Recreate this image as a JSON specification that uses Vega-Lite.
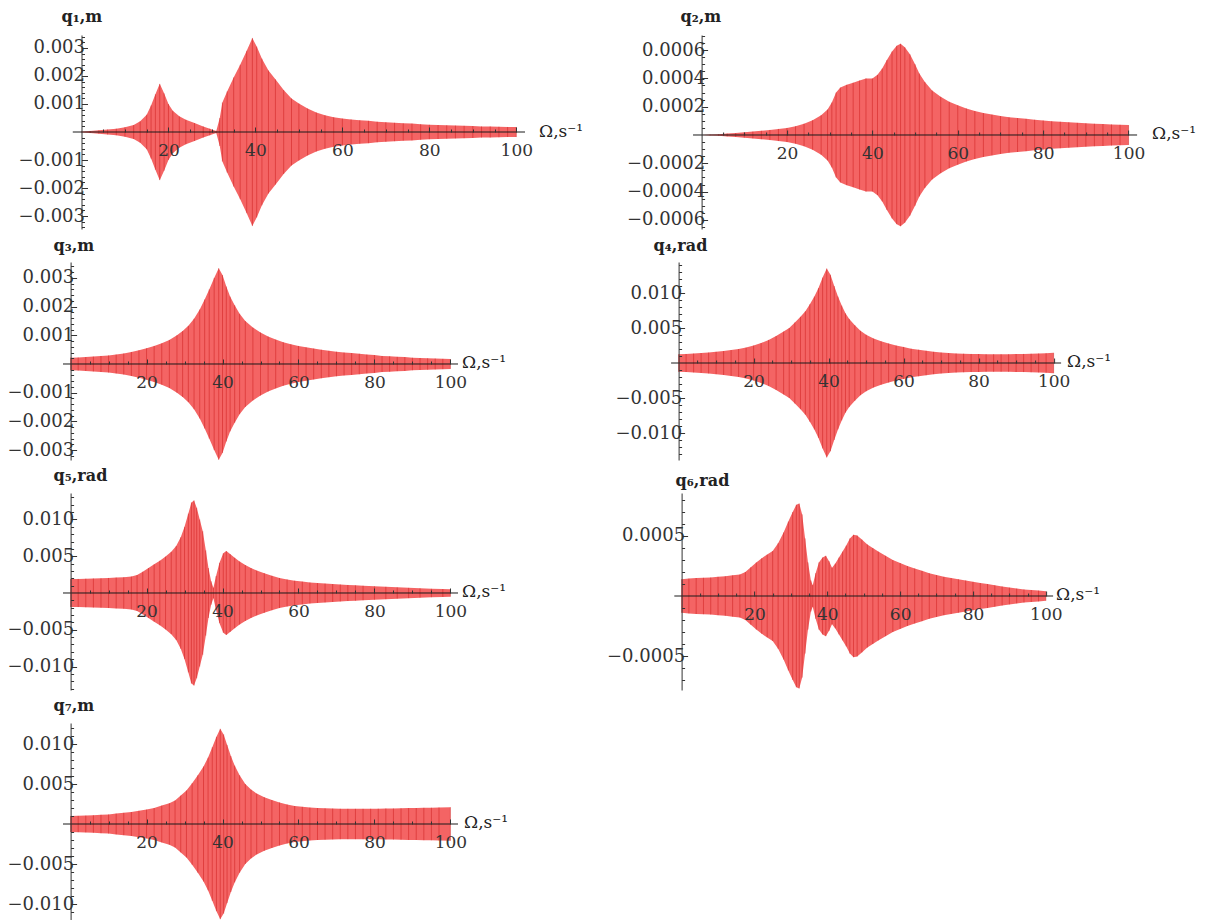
{
"$schema": "https://vega.github.io/schema/vega-lite/v6.json",
"background": "white",
"padding": {"left": 6, "top": 9, "right": 0, "bottom": 0},
"config": {
  "view": {"stroke": null},
  "axis": {"labelFont": "DejaVu Serif", "labelColor": "#333", "domainColor": "#333", "tickColor": "#333", "grid": false, "labelOverlap": false, "labelFlush": false, "labelBound": false, "zindex": 1, "titleFont": "DejaVu Serif", "titleFontWeight": "normal", "titleColor": "#222", "titleFontSize": 17, "tickCount": 200},
  "axisX": {"labelPadding": 15, "labelFontSize": 17, "format": "d"},
  "axisY": {"labelPadding": 3, "labelFontSize": 18},
  "text": {"font": "DejaVu Serif", "fontSize": 16, "fontWeight": "bold", "color": "#222", "align": "left", "baseline": "middle"}
},
"datasets": {
"q1": [
{"x":0,"hi":0.00002,"lo":-0.00002},{"x":2,"hi":0.00004,"lo":-0.00004},{"x":4,"hi":0.00006,"lo":-0.00006},{"x":6,"hi":0.00009,"lo":-0.00009},{"x":8,"hi":0.00012,"lo":-0.00012},{"x":10,"hi":0.00017,"lo":-0.00017},{"x":12,"hi":0.00025,"lo":-0.00025},{"x":13.5,"hi":0.00038,"lo":-0.00038},{"x":15,"hi":0.00062,"lo":-0.00062},{"x":16,"hi":0.00095,"lo":-0.00095},{"x":17,"hi":0.00135,"lo":-0.00135},{"x":18,"hi":0.00172,"lo":-0.00172},{"x":19,"hi":0.00138,"lo":-0.00138},{"x":20,"hi":0.001,"lo":-0.001},{"x":21,"hi":0.00076,"lo":-0.00076},{"x":22.5,"hi":0.00056,"lo":-0.00056},{"x":24,"hi":0.00044,"lo":-0.00044},{"x":26,"hi":0.00032,"lo":-0.00032},{"x":28,"hi":0.0002,"lo":-0.0002},{"x":29.5,"hi":0.00012,"lo":-0.00012},{"x":31,"hi":0.00004,"lo":-0.00004},{"x":31.8,"hi":0.0005,"lo":-0.0005},{"x":32.4,"hi":0.00105,"lo":-0.00105},{"x":33.5,"hi":0.00145,"lo":-0.00145},{"x":35,"hi":0.00195,"lo":-0.00195},{"x":36.5,"hi":0.0024,"lo":-0.0024},{"x":38,"hi":0.0029,"lo":-0.0029},{"x":39.3,"hi":0.00336,"lo":-0.00336},{"x":40.3,"hi":0.00305,"lo":-0.00305},{"x":41.5,"hi":0.00262,"lo":-0.00262},{"x":43,"hi":0.0022,"lo":-0.0022},{"x":44.6,"hi":0.00188,"lo":-0.00188},{"x":46.5,"hi":0.0015,"lo":-0.0015},{"x":48.3,"hi":0.0012,"lo":-0.0012},{"x":50,"hi":0.00102,"lo":-0.00102},{"x":52,"hi":0.00084,"lo":-0.00084},{"x":54,"hi":0.0007,"lo":-0.0007},{"x":56,"hi":0.0006,"lo":-0.0006},{"x":58,"hi":0.00053,"lo":-0.00053},{"x":60,"hi":0.00048,"lo":-0.00048},{"x":62,"hi":0.00045,"lo":-0.00045},{"x":64,"hi":0.00042,"lo":-0.00042},{"x":66,"hi":0.0004,"lo":-0.0004},{"x":68,"hi":0.00037,"lo":-0.00037},{"x":70,"hi":0.00035,"lo":-0.00035},{"x":72,"hi":0.00033,"lo":-0.00033},{"x":74,"hi":0.00031,"lo":-0.00031},{"x":76,"hi":0.0003,"lo":-0.0003},{"x":78,"hi":0.00028,"lo":-0.00028},{"x":80,"hi":0.00026,"lo":-0.00026},{"x":82,"hi":0.00025,"lo":-0.00025},{"x":84,"hi":0.00024,"lo":-0.00024},{"x":86,"hi":0.00023,"lo":-0.00023},{"x":88,"hi":0.00022,"lo":-0.00022},{"x":90,"hi":0.00021,"lo":-0.00021},{"x":92,"hi":0.0002,"lo":-0.0002},{"x":94,"hi":0.0002,"lo":-0.0002},{"x":96,"hi":0.00019,"lo":-0.00019},{"x":98,"hi":0.00018,"lo":-0.00018},{"x":100,"hi":0.00018,"lo":-0.00018}
],
"q2": [
{"x":0,"hi":0.0,"lo":0.0},{"x":2,"hi":0.000003,"lo":-0.000003},{"x":4,"hi":0.000006,"lo":-0.000006},{"x":6,"hi":0.00001,"lo":-0.00001},{"x":8,"hi":0.000014,"lo":-0.000014},{"x":10,"hi":0.000019,"lo":-0.000019},{"x":12,"hi":0.000024,"lo":-0.000024},{"x":14,"hi":0.00003,"lo":-0.00003},{"x":16,"hi":0.000036,"lo":-0.000036},{"x":18,"hi":0.000043,"lo":-0.000043},{"x":20,"hi":0.00005,"lo":-0.00005},{"x":22,"hi":0.000062,"lo":-0.000062},{"x":24,"hi":0.00008,"lo":-0.00008},{"x":26,"hi":0.000105,"lo":-0.000105},{"x":28,"hi":0.00014,"lo":-0.00014},{"x":29.5,"hi":0.00018,"lo":-0.00018},{"x":30.5,"hi":0.00023,"lo":-0.00023},{"x":31.5,"hi":0.0003,"lo":-0.0003},{"x":32.5,"hi":0.000335,"lo":-0.000335},{"x":34,"hi":0.000355,"lo":-0.000355},{"x":35.5,"hi":0.00037,"lo":-0.00037},{"x":37,"hi":0.000385,"lo":-0.000385},{"x":38.5,"hi":0.0004,"lo":-0.0004},{"x":40,"hi":0.0004,"lo":-0.0004},{"x":41.2,"hi":0.000425,"lo":-0.000425},{"x":42.3,"hi":0.00047,"lo":-0.00047},{"x":43.4,"hi":0.00053,"lo":-0.00053},{"x":44.6,"hi":0.00059,"lo":-0.00059},{"x":45.7,"hi":0.00063,"lo":-0.00063},{"x":46.6,"hi":0.000645,"lo":-0.000645},{"x":47.6,"hi":0.00062,"lo":-0.00062},{"x":48.8,"hi":0.00057,"lo":-0.00057},{"x":50,"hi":0.0005,"lo":-0.0005},{"x":51,"hi":0.000435,"lo":-0.000435},{"x":52.3,"hi":0.000375,"lo":-0.000375},{"x":54,"hi":0.000315,"lo":-0.000315},{"x":56,"hi":0.00027,"lo":-0.00027},{"x":58,"hi":0.000235,"lo":-0.000235},{"x":60,"hi":0.00021,"lo":-0.00021},{"x":62,"hi":0.000188,"lo":-0.000188},{"x":64,"hi":0.00017,"lo":-0.00017},{"x":66,"hi":0.000155,"lo":-0.000155},{"x":68,"hi":0.000144,"lo":-0.000144},{"x":70,"hi":0.000134,"lo":-0.000134},{"x":72,"hi":0.000126,"lo":-0.000126},{"x":74,"hi":0.00012,"lo":-0.00012},{"x":76,"hi":0.000114,"lo":-0.000114},{"x":78,"hi":0.000108,"lo":-0.000108},{"x":80,"hi":0.000103,"lo":-0.000103},{"x":82,"hi":0.000098,"lo":-0.000098},{"x":84,"hi":0.000094,"lo":-0.000094},{"x":86,"hi":0.00009,"lo":-0.00009},{"x":88,"hi":0.000086,"lo":-0.000086},{"x":90,"hi":0.000083,"lo":-0.000083},{"x":92,"hi":0.00008,"lo":-0.00008},{"x":94,"hi":0.000077,"lo":-0.000077},{"x":96,"hi":0.000075,"lo":-0.000075},{"x":98,"hi":0.000072,"lo":-0.000072},{"x":100,"hi":0.00007,"lo":-0.00007}
],
"q3": [
{"x":0,"hi":0.00022,"lo":-0.00022},{"x":2,"hi":0.00023,"lo":-0.00023},{"x":4,"hi":0.00024,"lo":-0.00024},{"x":6,"hi":0.00026,"lo":-0.00026},{"x":8,"hi":0.00028,"lo":-0.00028},{"x":10,"hi":0.0003,"lo":-0.0003},{"x":12,"hi":0.00033,"lo":-0.00033},{"x":14,"hi":0.00037,"lo":-0.00037},{"x":16,"hi":0.00042,"lo":-0.00042},{"x":18,"hi":0.00048,"lo":-0.00048},{"x":20,"hi":0.00055,"lo":-0.00055},{"x":22,"hi":0.00063,"lo":-0.00063},{"x":24,"hi":0.00072,"lo":-0.00072},{"x":26,"hi":0.00084,"lo":-0.00084},{"x":28,"hi":0.001,"lo":-0.001},{"x":29.5,"hi":0.00115,"lo":-0.00115},{"x":31,"hi":0.00133,"lo":-0.00133},{"x":32.5,"hi":0.00158,"lo":-0.00158},{"x":34,"hi":0.0019,"lo":-0.0019},{"x":35.3,"hi":0.00225,"lo":-0.00225},{"x":36.5,"hi":0.0026,"lo":-0.0026},{"x":37.8,"hi":0.003,"lo":-0.003},{"x":39,"hi":0.00334,"lo":-0.00334},{"x":40,"hi":0.0031,"lo":-0.0031},{"x":41,"hi":0.0027,"lo":-0.0027},{"x":42,"hi":0.00235,"lo":-0.00235},{"x":43.2,"hi":0.00205,"lo":-0.00205},{"x":44.5,"hi":0.00175,"lo":-0.00175},{"x":46,"hi":0.0015,"lo":-0.0015},{"x":48,"hi":0.00127,"lo":-0.00127},{"x":50,"hi":0.0011,"lo":-0.0011},{"x":52,"hi":0.00096,"lo":-0.00096},{"x":54,"hi":0.00085,"lo":-0.00085},{"x":56,"hi":0.00076,"lo":-0.00076},{"x":58,"hi":0.00069,"lo":-0.00069},{"x":60,"hi":0.00063,"lo":-0.00063},{"x":62,"hi":0.00058,"lo":-0.00058},{"x":64,"hi":0.00054,"lo":-0.00054},{"x":66,"hi":0.0005,"lo":-0.0005},{"x":68,"hi":0.00046,"lo":-0.00046},{"x":70,"hi":0.00043,"lo":-0.00043},{"x":72,"hi":0.0004,"lo":-0.0004},{"x":74,"hi":0.00038,"lo":-0.00038},{"x":76,"hi":0.00036,"lo":-0.00036},{"x":78,"hi":0.00033,"lo":-0.00033},{"x":80,"hi":0.00031,"lo":-0.00031},{"x":82,"hi":0.00028,"lo":-0.00028},{"x":84,"hi":0.00027,"lo":-0.00027},{"x":86,"hi":0.00025,"lo":-0.00025},{"x":88,"hi":0.00024,"lo":-0.00024},{"x":90,"hi":0.00022,"lo":-0.00022},{"x":92,"hi":0.00021,"lo":-0.00021},{"x":94,"hi":0.0002,"lo":-0.0002},{"x":96,"hi":0.00019,"lo":-0.00019},{"x":98,"hi":0.00018,"lo":-0.00018},{"x":100,"hi":0.00017,"lo":-0.00017}
],
"q4": [
{"x":0,"hi":0.00125,"lo":-0.00125},{"x":2,"hi":0.0013,"lo":-0.0013},{"x":4,"hi":0.00135,"lo":-0.00135},{"x":6,"hi":0.00142,"lo":-0.00142},{"x":8,"hi":0.0015,"lo":-0.0015},{"x":10,"hi":0.0016,"lo":-0.0016},{"x":12,"hi":0.0017,"lo":-0.0017},{"x":14,"hi":0.00185,"lo":-0.00185},{"x":16,"hi":0.002,"lo":-0.002},{"x":18,"hi":0.0022,"lo":-0.0022},{"x":20,"hi":0.0025,"lo":-0.0025},{"x":22,"hi":0.00285,"lo":-0.00285},{"x":24,"hi":0.0033,"lo":-0.0033},{"x":26,"hi":0.00385,"lo":-0.00385},{"x":28,"hi":0.0045,"lo":-0.0045},{"x":29.5,"hi":0.005,"lo":-0.005},{"x":31,"hi":0.0058,"lo":-0.0058},{"x":32.5,"hi":0.0066,"lo":-0.0066},{"x":33.8,"hi":0.0074,"lo":-0.0074},{"x":35,"hi":0.0084,"lo":-0.0084},{"x":36.2,"hi":0.0095,"lo":-0.0095},{"x":37.3,"hi":0.0107,"lo":-0.0107},{"x":38.4,"hi":0.0122,"lo":-0.0122},{"x":39.5,"hi":0.0135,"lo":-0.0135},{"x":40.5,"hi":0.0126,"lo":-0.0126},{"x":41.5,"hi":0.011,"lo":-0.011},{"x":42.5,"hi":0.0095,"lo":-0.0095},{"x":43.5,"hi":0.0082,"lo":-0.0082},{"x":44.5,"hi":0.0071,"lo":-0.0071},{"x":45.5,"hi":0.0063,"lo":-0.0063},{"x":47,"hi":0.0054,"lo":-0.0054},{"x":48.5,"hi":0.0046,"lo":-0.0046},{"x":50,"hi":0.00405,"lo":-0.00405},{"x":52,"hi":0.0035,"lo":-0.0035},{"x":54,"hi":0.0031,"lo":-0.0031},{"x":56,"hi":0.0028,"lo":-0.0028},{"x":58,"hi":0.0025,"lo":-0.0025},{"x":60,"hi":0.0023,"lo":-0.0023},{"x":62,"hi":0.00205,"lo":-0.00205},{"x":64,"hi":0.0019,"lo":-0.0019},{"x":66,"hi":0.00175,"lo":-0.00175},{"x":68,"hi":0.0016,"lo":-0.0016},{"x":70,"hi":0.0015,"lo":-0.0015},{"x":72,"hi":0.00142,"lo":-0.00142},{"x":74,"hi":0.00137,"lo":-0.00137},{"x":76,"hi":0.00133,"lo":-0.00133},{"x":78,"hi":0.0013,"lo":-0.0013},{"x":80,"hi":0.00128,"lo":-0.00128},{"x":82,"hi":0.00126,"lo":-0.00126},{"x":84,"hi":0.00125,"lo":-0.00125},{"x":86,"hi":0.00125,"lo":-0.00125},{"x":88,"hi":0.00126,"lo":-0.00126},{"x":90,"hi":0.00128,"lo":-0.00128},{"x":92,"hi":0.0013,"lo":-0.0013},{"x":94,"hi":0.00133,"lo":-0.00133},{"x":96,"hi":0.00136,"lo":-0.00136},{"x":98,"hi":0.0014,"lo":-0.0014},{"x":100,"hi":0.00145,"lo":-0.00145}
],
"q5": [
{"x":0,"hi":0.0019,"lo":-0.0019},{"x":2,"hi":0.00192,"lo":-0.00192},{"x":4,"hi":0.00195,"lo":-0.00195},{"x":6,"hi":0.00198,"lo":-0.00198},{"x":8,"hi":0.002,"lo":-0.002},{"x":10,"hi":0.00205,"lo":-0.00205},{"x":12,"hi":0.0021,"lo":-0.0021},{"x":14,"hi":0.00215,"lo":-0.00215},{"x":16,"hi":0.00225,"lo":-0.00225},{"x":17.5,"hi":0.00245,"lo":-0.00245},{"x":19,"hi":0.0029,"lo":-0.0029},{"x":20.5,"hi":0.0034,"lo":-0.0034},{"x":22,"hi":0.0039,"lo":-0.0039},{"x":23.5,"hi":0.0044,"lo":-0.0044},{"x":25,"hi":0.00495,"lo":-0.00495},{"x":26.5,"hi":0.0056,"lo":-0.0056},{"x":27.8,"hi":0.0064,"lo":-0.0064},{"x":29,"hi":0.0076,"lo":-0.0076},{"x":30,"hi":0.009,"lo":-0.009},{"x":31,"hi":0.0108,"lo":-0.0108},{"x":31.8,"hi":0.0123,"lo":-0.0123},{"x":32.5,"hi":0.0126,"lo":-0.0126},{"x":33.2,"hi":0.0116,"lo":-0.0116},{"x":34,"hi":0.01,"lo":-0.01},{"x":34.8,"hi":0.0084,"lo":-0.0084},{"x":35.6,"hi":0.0058,"lo":-0.0058},{"x":36.3,"hi":0.0034,"lo":-0.0034},{"x":37,"hi":0.0016,"lo":-0.0016},{"x":37.6,"hi":0.0007,"lo":-0.0007},{"x":38.3,"hi":0.0023,"lo":-0.0023},{"x":39.2,"hi":0.0041,"lo":-0.0041},{"x":40.2,"hi":0.0054,"lo":-0.0054},{"x":41,"hi":0.0057,"lo":-0.0057},{"x":42,"hi":0.0053,"lo":-0.0053},{"x":43.2,"hi":0.0048,"lo":-0.0048},{"x":44.5,"hi":0.0043,"lo":-0.0043},{"x":46,"hi":0.0038,"lo":-0.0038},{"x":47.5,"hi":0.0034,"lo":-0.0034},{"x":49,"hi":0.00305,"lo":-0.00305},{"x":51,"hi":0.0027,"lo":-0.0027},{"x":53,"hi":0.00235,"lo":-0.00235},{"x":55,"hi":0.00205,"lo":-0.00205},{"x":57,"hi":0.00185,"lo":-0.00185},{"x":59,"hi":0.00168,"lo":-0.00168},{"x":61,"hi":0.00155,"lo":-0.00155},{"x":63,"hi":0.00144,"lo":-0.00144},{"x":65,"hi":0.00135,"lo":-0.00135},{"x":67,"hi":0.00128,"lo":-0.00128},{"x":69,"hi":0.00122,"lo":-0.00122},{"x":71,"hi":0.00116,"lo":-0.00116},{"x":73,"hi":0.0011,"lo":-0.0011},{"x":75,"hi":0.00105,"lo":-0.00105},{"x":77,"hi":0.001,"lo":-0.001},{"x":80,"hi":0.00092,"lo":-0.00092},{"x":83,"hi":0.00085,"lo":-0.00085},{"x":86,"hi":0.00077,"lo":-0.00077},{"x":89,"hi":0.0007,"lo":-0.0007},{"x":92,"hi":0.00064,"lo":-0.00064},{"x":95,"hi":0.00058,"lo":-0.00058},{"x":98,"hi":0.00053,"lo":-0.00053},{"x":100,"hi":0.0005,"lo":-0.0005}
],
"q6": [
{"x":0,"hi":0.00014,"lo":-0.00014},{"x":2,"hi":0.000145,"lo":-0.000145},{"x":4,"hi":0.00015,"lo":-0.00015},{"x":6,"hi":0.000152,"lo":-0.000152},{"x":8,"hi":0.000155,"lo":-0.000155},{"x":10,"hi":0.00016,"lo":-0.00016},{"x":12,"hi":0.000165,"lo":-0.000165},{"x":14,"hi":0.000172,"lo":-0.000172},{"x":16,"hi":0.00018,"lo":-0.00018},{"x":17.5,"hi":0.0002,"lo":-0.0002},{"x":19,"hi":0.00024,"lo":-0.00024},{"x":20.5,"hi":0.00028,"lo":-0.00028},{"x":22,"hi":0.000315,"lo":-0.000315},{"x":23.5,"hi":0.000345,"lo":-0.000345},{"x":25,"hi":0.000375,"lo":-0.000375},{"x":26.5,"hi":0.00044,"lo":-0.00044},{"x":28,"hi":0.00053,"lo":-0.00053},{"x":29.3,"hi":0.00062,"lo":-0.00062},{"x":30.5,"hi":0.0007,"lo":-0.0007},{"x":31.5,"hi":0.00076,"lo":-0.00076},{"x":32.3,"hi":0.00077,"lo":-0.00077},{"x":33.1,"hi":0.00068,"lo":-0.00068},{"x":33.9,"hi":0.00048,"lo":-0.00048},{"x":34.7,"hi":0.00028,"lo":-0.00028},{"x":35.5,"hi":0.00013,"lo":-0.00013},{"x":36,"hi":0.00009,"lo":-0.00009},{"x":36.8,"hi":0.00019,"lo":-0.00019},{"x":37.7,"hi":0.00028,"lo":-0.00028},{"x":38.7,"hi":0.00032,"lo":-0.00032},{"x":39.6,"hi":0.000335,"lo":-0.000335},{"x":40.5,"hi":0.00029,"lo":-0.00029},{"x":41.3,"hi":0.000235,"lo":-0.000235},{"x":42.2,"hi":0.00027,"lo":-0.00027},{"x":43.2,"hi":0.00032,"lo":-0.00032},{"x":44.2,"hi":0.00037,"lo":-0.00037},{"x":45.2,"hi":0.00042,"lo":-0.00042},{"x":46.2,"hi":0.00048,"lo":-0.00048},{"x":47.2,"hi":0.00051,"lo":-0.00051},{"x":48.2,"hi":0.000505,"lo":-0.000505},{"x":49.5,"hi":0.00047,"lo":-0.00047},{"x":51,"hi":0.00043,"lo":-0.00043},{"x":52.5,"hi":0.0004,"lo":-0.0004},{"x":54,"hi":0.00037,"lo":-0.00037},{"x":56,"hi":0.000335,"lo":-0.000335},{"x":58,"hi":0.0003,"lo":-0.0003},{"x":60,"hi":0.000275,"lo":-0.000275},{"x":62,"hi":0.00025,"lo":-0.00025},{"x":64,"hi":0.00023,"lo":-0.00023},{"x":66,"hi":0.00021,"lo":-0.00021},{"x":68,"hi":0.00019,"lo":-0.00019},{"x":70,"hi":0.000175,"lo":-0.000175},{"x":72,"hi":0.00016,"lo":-0.00016},{"x":74,"hi":0.00015,"lo":-0.00015},{"x":76,"hi":0.00014,"lo":-0.00014},{"x":78,"hi":0.00013,"lo":-0.00013},{"x":80,"hi":0.000118,"lo":-0.000118},{"x":82,"hi":0.000108,"lo":-0.000108},{"x":84,"hi":0.0001,"lo":-0.0001},{"x":86,"hi":0.00009,"lo":-0.00009},{"x":88,"hi":0.00008,"lo":-0.00008},{"x":90,"hi":0.00007,"lo":-0.00007},{"x":92,"hi":0.000062,"lo":-0.000062},{"x":94,"hi":0.000055,"lo":-0.000055},{"x":96,"hi":0.00005,"lo":-0.00005},{"x":98,"hi":0.000045,"lo":-0.000045},{"x":100,"hi":0.00004,"lo":-0.00004}
],
"q7": [
{"x":0,"hi":0.001,"lo":-0.001},{"x":2,"hi":0.00102,"lo":-0.00102},{"x":4,"hi":0.00105,"lo":-0.00105},{"x":6,"hi":0.0011,"lo":-0.0011},{"x":8,"hi":0.00115,"lo":-0.00115},{"x":10,"hi":0.0012,"lo":-0.0012},{"x":12,"hi":0.0013,"lo":-0.0013},{"x":14,"hi":0.0014,"lo":-0.0014},{"x":16,"hi":0.0015,"lo":-0.0015},{"x":18,"hi":0.00165,"lo":-0.00165},{"x":20,"hi":0.0018,"lo":-0.0018},{"x":22,"hi":0.002,"lo":-0.002},{"x":24,"hi":0.0023,"lo":-0.0023},{"x":26,"hi":0.0026,"lo":-0.0026},{"x":27.5,"hi":0.00295,"lo":-0.00295},{"x":29,"hi":0.00355,"lo":-0.00355},{"x":30.5,"hi":0.0042,"lo":-0.0042},{"x":32,"hi":0.0051,"lo":-0.0051},{"x":33.5,"hi":0.0061,"lo":-0.0061},{"x":35,"hi":0.0072,"lo":-0.0072},{"x":36.2,"hi":0.0083,"lo":-0.0083},{"x":37.3,"hi":0.0096,"lo":-0.0096},{"x":38.4,"hi":0.0109,"lo":-0.0109},{"x":39.4,"hi":0.0119,"lo":-0.0119},{"x":40.3,"hi":0.0112,"lo":-0.0112},{"x":41.2,"hi":0.0099,"lo":-0.0099},{"x":42.2,"hi":0.0085,"lo":-0.0085},{"x":43.2,"hi":0.0073,"lo":-0.0073},{"x":44.5,"hi":0.0061,"lo":-0.0061},{"x":46,"hi":0.005,"lo":-0.005},{"x":47.5,"hi":0.0043,"lo":-0.0043},{"x":49,"hi":0.0038,"lo":-0.0038},{"x":51,"hi":0.00335,"lo":-0.00335},{"x":53,"hi":0.003,"lo":-0.003},{"x":55,"hi":0.0027,"lo":-0.0027},{"x":57,"hi":0.00245,"lo":-0.00245},{"x":59,"hi":0.00225,"lo":-0.00225},{"x":61,"hi":0.00215,"lo":-0.00215},{"x":63,"hi":0.00205,"lo":-0.00205},{"x":65,"hi":0.002,"lo":-0.002},{"x":67,"hi":0.00196,"lo":-0.00196},{"x":69,"hi":0.00193,"lo":-0.00193},{"x":71,"hi":0.00191,"lo":-0.00191},{"x":73,"hi":0.0019,"lo":-0.0019},{"x":75,"hi":0.0019,"lo":-0.0019},{"x":77,"hi":0.0019,"lo":-0.0019},{"x":79,"hi":0.00191,"lo":-0.00191},{"x":81,"hi":0.00192,"lo":-0.00192},{"x":83,"hi":0.00194,"lo":-0.00194},{"x":85,"hi":0.00195,"lo":-0.00195},{"x":87,"hi":0.00197,"lo":-0.00197},{"x":89,"hi":0.00199,"lo":-0.00199},{"x":91,"hi":0.002,"lo":-0.002},{"x":93,"hi":0.00202,"lo":-0.00202},{"x":95,"hi":0.00204,"lo":-0.00204},{"x":97,"hi":0.00207,"lo":-0.00207},{"x":100,"hi":0.0021,"lo":-0.0021}
]
},
"columns": 2,
"spacing": {"row": 33, "column": 146.1},
"bounds": "flush",
"concat": [
  {"width": 462, "height": 194, "data": {"name": "q1"},
   "layer": [
    {"mark": {"type": "area", "color": "#f46464"},
     "encoding": {
      "x": {"field": "x", "type": "quantitative", "scale": {"domain": [-4.25, 102], "nice": false, "zero": false},
        "axis": {"orient": "bottom", "offset": -97, "zindex": 1, "tickCount": 200, "format": "d", "values": [5,10,15,20,25,30,35,40,45,50,55,60,65,70,75,80,85,90,95,100], "domain": false, "labelOverlap": false,
          "labelExpr": "datum.value % 20 === 0 ? datum.label : ''",
          "tickSize": {"condition": {"test": "datum.value % 20 === 0", "value": -5}, "value": -3},
          "title": "Ω,s⁻¹", "titleX": 475.6, "titleY": -1, "titleAlign": "left", "titleBaseline": "middle"}},
      "y": {"field": "lo", "type": "quantitative", "scale": {"domain": [-0.003464, 0.003464], "nice": false, "zero": false},
        "axis": {"orient": "left", "offset": -18.5, "zindex": 1, "tickCount": 200, "format": ".3f", "labelOverlap": false,
          "values": [-0.0034,-0.0032,-0.003,-0.0028,-0.0026,-0.0024,-0.0022,-0.002,-0.0018,-0.0016,-0.0014,-0.0012,-0.001,-0.0008,-0.0006,-0.0004,-0.0002,0.0002,0.0004,0.0006,0.0008,0.001,0.0012,0.0014,0.0016,0.0018,0.002,0.0022,0.0024,0.0026,0.0028,0.003,0.0032,0.0034],
          "labelExpr": "abs(datum.value*1000 - round(datum.value*1000)) < 0.001 ? datum.label : ''",
          "tickSize": {"condition": {"test": "abs(datum.value*1000 - round(datum.value*1000)) < 0.001", "value": -6}, "value": -3},
          "title": null}},
      "y2": {"field": "hi"}}},
    {"mark": {"type": "rule", "color": "#c81414", "opacity": 0.45, "strokeWidth": 1},
     "encoding": {"x": {"field": "x", "type": "quantitative"}, "y": {"field": "lo", "type": "quantitative"}, "y2": {"field": "hi"}}},
    {"data": {"values": [{}]}, "mark": {"type": "rule", "color": "#1a1a1a", "strokeWidth": 1},
     "encoding": {"x": {"datum": -2}, "x2": {"datum": 102}, "y": {"datum": 0}}},
    {"data": {"values": [{}]}, "mark": {"type": "text", "text": "q₁,m", "dy": -18},
     "encoding": {"x": {"datum": -4.6}, "y": {"datum": 0.003464}}}
   ]},
  {"width": 466, "height": 194, "data": {"name": "q2"},
   "layer": [
    {"mark": {"type": "area", "color": "#f46464"},
     "encoding": {
      "x": {"field": "x", "type": "quantitative", "scale": {"domain": [-7.14, 102], "nice": false, "zero": false},
        "axis": {"orient": "bottom", "offset": -94, "zindex": 1, "tickCount": 200, "format": "d", "values": [5,10,15,20,25,30,35,40,45,50,55,60,65,70,75,80,85,90,95,100], "domain": false, "labelOverlap": false,
          "labelExpr": "datum.value % 20 === 0 ? datum.label : ''",
          "tickSize": {"condition": {"test": "datum.value % 20 === 0", "value": -5}, "value": -3},
          "title": "Ω,s⁻¹", "titleX": 480.5, "titleY": -2, "titleAlign": "left", "titleBaseline": "middle"}},
      "y": {"field": "lo", "type": "quantitative", "scale": {"domain": [-0.0006643, 0.0007067], "nice": false, "zero": false},
        "axis": {"orient": "left", "offset": -30.5, "zindex": 1, "tickCount": 200, "format": ".4f", "labelOverlap": false,
          "values": [-0.00065,-0.0006,-0.00055,-0.0005,-0.00045,-0.0004,-0.00035,-0.0003,-0.00025,-0.0002,-0.00015,-0.0001,-0.00005,0.00005,0.0001,0.00015,0.0002,0.00025,0.0003,0.00035,0.0004,0.00045,0.0005,0.00055,0.0006,0.00065,0.0007],
          "labelExpr": "abs(datum.value*5000 - round(datum.value*5000)) < 0.001 ? datum.label : ''",
          "tickSize": {"condition": {"test": "abs(datum.value*5000 - round(datum.value*5000)) < 0.001", "value": -6}, "value": -3},
          "title": null}},
      "y2": {"field": "hi"}}},
    {"mark": {"type": "rule", "color": "#c81414", "opacity": 0.45, "strokeWidth": 1},
     "encoding": {"x": {"field": "x", "type": "quantitative"}, "y": {"field": "lo", "type": "quantitative"}, "y2": {"field": "hi"}}},
    {"data": {"values": [{}]}, "mark": {"type": "rule", "color": "#1a1a1a", "strokeWidth": 1},
     "encoding": {"x": {"datum": -2}, "x2": {"datum": 102}, "y": {"datum": 0}}},
    {"data": {"values": [{}]}, "mark": {"type": "text", "text": "q₂,m", "dy": -18},
     "encoding": {"x": {"datum": -4.92}, "y": {"datum": 0.0007067}}}
   ]},
  {"width": 395, "height": 198, "data": {"name": "q3"},
   "layer": [
    {"mark": {"type": "area", "color": "#f46464"},
     "encoding": {
      "x": {"field": "x", "type": "quantitative", "scale": {"domain": [-2, 102], "nice": false, "zero": false},
        "axis": {"orient": "bottom", "offset": -96, "zindex": 1, "tickCount": 200, "format": "d", "values": [5,10,15,20,25,30,35,40,45,50,55,60,65,70,75,80,85,90,95,100], "domain": false, "labelOverlap": false,
          "labelExpr": "datum.value % 20 === 0 ? datum.label : ''",
          "tickSize": {"condition": {"test": "datum.value % 20 === 0", "value": -5}, "value": -3},
          "title": "Ω,s⁻¹", "titleX": 398.6, "titleY": -2, "titleAlign": "left", "titleBaseline": "middle"}},
      "y": {"field": "lo", "type": "quantitative", "scale": {"domain": [-0.003345, 0.003554], "nice": false, "zero": false},
        "axis": {"orient": "left", "offset": -7.6, "zindex": 1, "tickCount": 200, "format": ".3f", "labelOverlap": false,
          "values": [-0.0032,-0.003,-0.0028,-0.0026,-0.0024,-0.0022,-0.002,-0.0018,-0.0016,-0.0014,-0.0012,-0.001,-0.0008,-0.0006,-0.0004,-0.0002,0.0002,0.0004,0.0006,0.0008,0.001,0.0012,0.0014,0.0016,0.0018,0.002,0.0022,0.0024,0.0026,0.0028,0.003,0.0032,0.0034],
          "labelExpr": "abs(datum.value*1000 - round(datum.value*1000)) < 0.001 ? datum.label : ''",
          "tickSize": {"condition": {"test": "abs(datum.value*1000 - round(datum.value*1000)) < 0.001", "value": -6}, "value": -3},
          "title": null}},
      "y2": {"field": "hi"}}},
    {"mark": {"type": "rule", "color": "#c81414", "opacity": 0.45, "strokeWidth": 1},
     "encoding": {"x": {"field": "x", "type": "quantitative"}, "y": {"field": "lo", "type": "quantitative"}, "y2": {"field": "hi"}}},
    {"data": {"values": [{}]}, "mark": {"type": "rule", "color": "#1a1a1a", "strokeWidth": 1},
     "encoding": {"x": {"datum": -2}, "x2": {"datum": 102}, "y": {"datum": 0}}},
    {"data": {"values": [{}]}, "mark": {"type": "text", "text": "q₃,m", "dy": -16},
     "encoding": {"x": {"datum": -4.48}, "y": {"datum": 0.003554}}}
   ]},
  {"width": 390, "height": 198, "data": {"name": "q4"},
   "layer": [
    {"mark": {"type": "area", "color": "#f46464"},
     "encoding": {
      "x": {"field": "x", "type": "quantitative", "scale": {"domain": [-2, 102], "nice": false, "zero": false},
        "axis": {"orient": "bottom", "offset": -97, "zindex": 1, "tickCount": 200, "format": "d", "values": [5,10,15,20,25,30,35,40,45,50,55,60,65,70,75,80,85,90,95,100], "domain": false, "labelOverlap": false,
          "labelExpr": "datum.value % 20 === 0 ? datum.label : ''",
          "tickSize": {"condition": {"test": "datum.value % 20 === 0", "value": -5}, "value": -3},
          "title": "Ω,s⁻¹", "titleX": 395.5, "titleY": -2, "titleAlign": "left", "titleBaseline": "middle"}},
      "y": {"field": "lo", "type": "quantitative", "scale": {"domain": [-0.013857, 0.014429], "nice": false, "zero": false},
        "axis": {"orient": "left", "offset": -7.5, "zindex": 1, "tickCount": 200, "format": ".3f", "labelOverlap": false,
          "values": [-0.013,-0.012,-0.011,-0.01,-0.009,-0.008,-0.007,-0.006,-0.005,-0.004,-0.003,-0.002,-0.001,0.001,0.002,0.003,0.004,0.005,0.006,0.007,0.008,0.009,0.01,0.011,0.012,0.013,0.014],
          "labelExpr": "abs(datum.value*200 - round(datum.value*200)) < 0.001 ? datum.label : ''",
          "tickSize": {"condition": {"test": "abs(datum.value*200 - round(datum.value*200)) < 0.001", "value": -6}, "value": -3},
          "title": null}},
      "y2": {"field": "hi"}}},
    {"mark": {"type": "rule", "color": "#c81414", "opacity": 0.45, "strokeWidth": 1},
     "encoding": {"x": {"field": "x", "type": "quantitative"}, "y": {"field": "lo", "type": "quantitative"}, "y2": {"field": "hi"}}},
    {"data": {"values": [{}]}, "mark": {"type": "rule", "color": "#1a1a1a", "strokeWidth": 1},
     "encoding": {"x": {"datum": -2}, "x2": {"datum": 102}, "y": {"datum": 0}}},
    {"data": {"values": [{}]}, "mark": {"type": "text", "text": "q₄,rad", "dy": -16},
     "encoding": {"x": {"datum": -6.67}, "y": {"datum": 0.014429}}}
   ]},
  {"width": 395, "height": 197, "data": {"name": "q5"},
   "layer": [
    {"mark": {"type": "area", "color": "#f46464"},
     "encoding": {
      "x": {"field": "x", "type": "quantitative", "scale": {"domain": [-2, 102], "nice": false, "zero": false},
        "axis": {"orient": "bottom", "offset": -97, "zindex": 1, "tickCount": 200, "format": "d", "values": [5,10,15,20,25,30,35,40,45,50,55,60,65,70,75,80,85,90,95,100], "domain": false, "labelOverlap": false,
          "labelExpr": "datum.value % 20 === 0 ? datum.label : ''",
          "tickSize": {"condition": {"test": "datum.value % 20 === 0", "value": -5}, "value": -3},
          "title": "Ω,s⁻¹", "titleX": 398.6, "titleY": -2, "titleAlign": "left", "titleBaseline": "middle"}},
      "y": {"field": "lo", "type": "quantitative", "scale": {"domain": [-0.013197, 0.013605], "nice": false, "zero": false},
        "axis": {"orient": "left", "offset": -7.6, "zindex": 1, "tickCount": 200, "format": ".3f", "labelOverlap": false,
          "values": [-0.013,-0.012,-0.011,-0.01,-0.009,-0.008,-0.007,-0.006,-0.005,-0.004,-0.003,-0.002,-0.001,0.001,0.002,0.003,0.004,0.005,0.006,0.007,0.008,0.009,0.01,0.011,0.012,0.013],
          "labelExpr": "abs(datum.value*200 - round(datum.value*200)) < 0.001 ? datum.label : ''",
          "tickSize": {"condition": {"test": "abs(datum.value*200 - round(datum.value*200)) < 0.001", "value": -6}, "value": -3},
          "title": null}},
      "y2": {"field": "hi"}}},
    {"mark": {"type": "rule", "color": "#c81414", "opacity": 0.45, "strokeWidth": 1},
     "encoding": {"x": {"field": "x", "type": "quantitative"}, "y": {"field": "lo", "type": "quantitative"}, "y2": {"field": "hi"}}},
    {"data": {"values": [{}]}, "mark": {"type": "rule", "color": "#1a1a1a", "strokeWidth": 1},
     "encoding": {"x": {"datum": -2}, "x2": {"datum": 102}, "y": {"datum": 0}}},
    {"data": {"values": [{}]}, "mark": {"type": "text", "text": "q₅,rad", "dy": -17},
     "encoding": {"x": {"datum": -4.48}, "y": {"datum": 0.013605}}}
   ]},
  {"width": 382, "height": 197, "data": {"name": "q6"},
   "layer": [
    {"mark": {"type": "area", "color": "#f46464"},
     "encoding": {
      "x": {"field": "x", "type": "quantitative", "scale": {"domain": [-2.885, 102], "nice": false, "zero": false},
        "axis": {"orient": "bottom", "offset": -94, "zindex": 1, "tickCount": 200, "format": "d", "values": [5,10,15,20,25,30,35,40,45,50,55,60,65,70,75,80,85,90,95,100], "domain": false, "labelOverlap": false,
          "labelExpr": "datum.value % 20 === 0 ? datum.label : ''",
          "tickSize": {"condition": {"test": "datum.value % 20 === 0", "value": -5}, "value": -3},
          "title": "Ω,s⁻¹", "titleX": 384.5, "titleY": -2, "titleAlign": "left", "titleBaseline": "middle"}},
      "y": {"field": "lo", "type": "quantitative", "scale": {"domain": [-0.0007833, 0.0008583], "nice": false, "zero": false},
        "axis": {"orient": "left", "offset": -10.5, "zindex": 1, "tickCount": 200, "format": ".4f", "labelOverlap": false,
          "values": [-0.0007,-0.0006,-0.0005,-0.0004,-0.0003,-0.0002,-0.0001,0.0001,0.0002,0.0003,0.0004,0.0005,0.0006,0.0007,0.0008],
          "labelExpr": "abs(datum.value*2000 - round(datum.value*2000)) < 0.001 ? datum.label : ''",
          "tickSize": {"condition": {"test": "abs(datum.value*2000 - round(datum.value*2000)) < 0.001", "value": -6}, "value": -3},
          "title": null}},
      "y2": {"field": "hi"}}},
    {"mark": {"type": "rule", "color": "#c81414", "opacity": 0.45, "strokeWidth": 1},
     "encoding": {"x": {"field": "x", "type": "quantitative"}, "y": {"field": "lo", "type": "quantitative"}, "y2": {"field": "hi"}}},
    {"data": {"values": [{}]}, "mark": {"type": "rule", "color": "#1a1a1a", "strokeWidth": 1},
     "encoding": {"x": {"datum": -2}, "x2": {"datum": 102}, "y": {"datum": 0}}},
    {"data": {"values": [{}]}, "mark": {"type": "text", "text": "q₆,rad", "dy": -12},
     "encoding": {"x": {"datum": -1.65}, "y": {"datum": 0.0008583}}}
   ]},
  {"width": 395, "height": 198, "data": {"name": "q7"},
   "layer": [
    {"mark": {"type": "area", "color": "#f46464"},
     "encoding": {
      "x": {"field": "x", "type": "quantitative", "scale": {"domain": [-2, 102], "nice": false, "zero": false},
        "axis": {"orient": "bottom", "offset": -97, "zindex": 1, "tickCount": 200, "format": "d", "values": [5,10,15,20,25,30,35,40,45,50,55,60,65,70,75,80,85,90,95,100], "domain": false, "labelOverlap": false,
          "labelExpr": "datum.value % 20 === 0 ? datum.label : ''",
          "tickSize": {"condition": {"test": "datum.value % 20 === 0", "value": -5}, "value": -3},
          "title": "Ω,s⁻¹", "titleX": 400.6, "titleY": -2, "titleAlign": "left", "titleBaseline": "middle"}},
      "y": {"field": "lo", "type": "quantitative", "scale": {"domain": [-0.012125, 0.012625], "nice": false, "zero": false},
        "axis": {"orient": "left", "offset": -7.6, "zindex": 1, "tickCount": 200, "format": ".3f", "labelOverlap": false,
          "values": [-0.012,-0.011,-0.01,-0.009,-0.008,-0.007,-0.006,-0.005,-0.004,-0.003,-0.002,-0.001,0.001,0.002,0.003,0.004,0.005,0.006,0.007,0.008,0.009,0.01,0.011,0.012],
          "labelExpr": "abs(datum.value*200 - round(datum.value*200)) < 0.001 ? datum.label : ''",
          "tickSize": {"condition": {"test": "abs(datum.value*200 - round(datum.value*200)) < 0.001", "value": -6}, "value": -3},
          "title": null}},
      "y2": {"field": "hi"}}},
    {"mark": {"type": "rule", "color": "#c81414", "opacity": 0.45, "strokeWidth": 1},
     "encoding": {"x": {"field": "x", "type": "quantitative"}, "y": {"field": "lo", "type": "quantitative"}, "y2": {"field": "hi"}}},
    {"data": {"values": [{}]}, "mark": {"type": "rule", "color": "#1a1a1a", "strokeWidth": 1},
     "encoding": {"x": {"datum": -2}, "x2": {"datum": 102}, "y": {"datum": 0}}},
    {"data": {"values": [{}]}, "mark": {"type": "text", "text": "q₇,m", "dy": -17},
     "encoding": {"x": {"datum": -4.48}, "y": {"datum": 0.012625}}}
   ]}
]
}
